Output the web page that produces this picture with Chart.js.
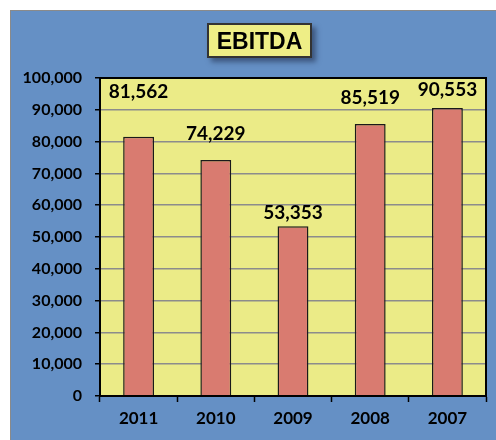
<!DOCTYPE html>
<html>
<head>
<meta charset="utf-8">
<script src="https://cdn.jsdelivr.net/npm/chart.js@4/dist/chart.umd.min.js"></script>
<style>
    html, body { margin: 0; padding: 0; background: #fff; }
    .wrap { position: relative; width: 496px; height: 440px; overflow: hidden; }
    .panel {
        position: absolute; left: 10px; top: 10px; right: 0; bottom: 0;
        background: #6590c5; border-left: 1px solid #8a8a8a; border-top: 1px solid #8a8a8a;
    }
    .title-box {
        position: absolute; left: 207px; top: 23px; width: 101px; height: 31px;
        background: #eeee86; border: 2px solid #333;
        box-shadow: 4px 4px 5px rgba(30, 40, 70, 0.55);
        font: bold 23px "Liberation Sans", Arial, sans-serif; color: #000;
        text-align: center; line-height: 32px;
    }
    canvas { position: absolute; left: 0; top: 0; }
</style>
</head>
<body>
<div class="wrap">
    <div class="panel"></div>
    <canvas id="ebitdaChart" width="496" height="440"></canvas>
    <div class="title-box">EBITDA</div>
</div>
<script>
// data
const years = ['2011', '2010', '2009', '2008', '2007'];
const ebitda = [81562, 74229, 53353, 85519, 90553];
const yTicks = [0, 10000, 20000, 30000, 40000, 50000, 60000, 70000, 80000, 90000, 100000];

// how far above each bar top the value label sits (px)
const labelLift = [45, 26, 13, 26, 18];

const fmt = v => v.toLocaleString('en-US');

// yellow plot area with black frame
const plotFrame = {
    id: 'plotFrame',
    beforeDraw(chart) {
        const { ctx, chartArea: a } = chart;
        ctx.save();
        ctx.fillStyle = '#ebeb87';
        ctx.fillRect(a.left, a.top, a.right - a.left, a.bottom - a.top);
        ctx.restore();
    },
    afterDraw(chart) {
        const { ctx, chartArea: a } = chart;
        ctx.save();
        ctx.strokeStyle = '#000';
        ctx.lineWidth = 2;
        ctx.strokeRect(a.left, a.top, a.right - a.left, a.bottom - a.top);
        ctx.restore();
    }
};

// value labels above bars
const valueLabels = {
    id: 'valueLabels',
    afterDatasetsDraw(chart) {
        const { ctx } = chart;
        const meta = chart.getDatasetMeta(0);
        ctx.save();
        ctx.font = 'bold 19px Lato, sans-serif';
        ctx.fillStyle = '#000';
        ctx.textAlign = 'center';
        ctx.textBaseline = 'middle';
        meta.data.forEach((bar, i) => {
            ctx.fillText(fmt(ebitda[i]), bar.x, bar.y - labelLift[i]);
        });
        ctx.restore();
    }
};

new Chart(document.getElementById('ebitdaChart'), {
    type: 'bar',
    data: {
        labels: years,
        datasets: [{
            data: ebitda,
            backgroundColor: '#d97b70',
            borderColor: '#1a1a1a',
            borderWidth: 1.5,
            borderSkipped: 'bottom',
            categoryPercentage: 1,
            barPercentage: 0.4
        }]
    },
    options: {
        responsive: false,
        animation: false,
        devicePixelRatio: 1,
        layout: { padding: { left: 0, right: 10, top: 78, bottom: 0 } },
        plugins: {
            legend: { display: false },
            tooltip: { enabled: false }
        },
        scales: {
            x: {
                afterFit(scale) { scale.height = 44; },
                grid: {
                    drawOnChartArea: false,
                    drawTicks: true,
                    tickLength: 6,
                    tickColor: '#000',
                    tickWidth: 1.5
                },
                border: { color: '#000', width: 2 },
                ticks: {
                    color: '#000',
                    font: { family: 'Lato', weight: 'bold', size: 17 },
                    padding: 6
                }
            },
            y: {
                min: 0,
                max: 100000,
                afterFit(scale) { scale.width = 100; },
                afterBuildTicks(scale) { scale.ticks = yTicks.map(v => ({ value: v })); },
                grid: {
                    color: '#8c8c8c',
                    lineWidth: 1.5,
                    tickLength: 5,
                    tickColor: '#000',
                    tickWidth: 1.5
                },
                border: { color: '#000', width: 2 },
                ticks: {
                    color: '#000',
                    font: { family: 'Lato', weight: 'bold', size: 16 },
                    padding: 13,
                    callback: v => fmt(v)
                }
            }
        }
    },
    plugins: [plotFrame, valueLabels]
});
</script>
</body>
</html>
